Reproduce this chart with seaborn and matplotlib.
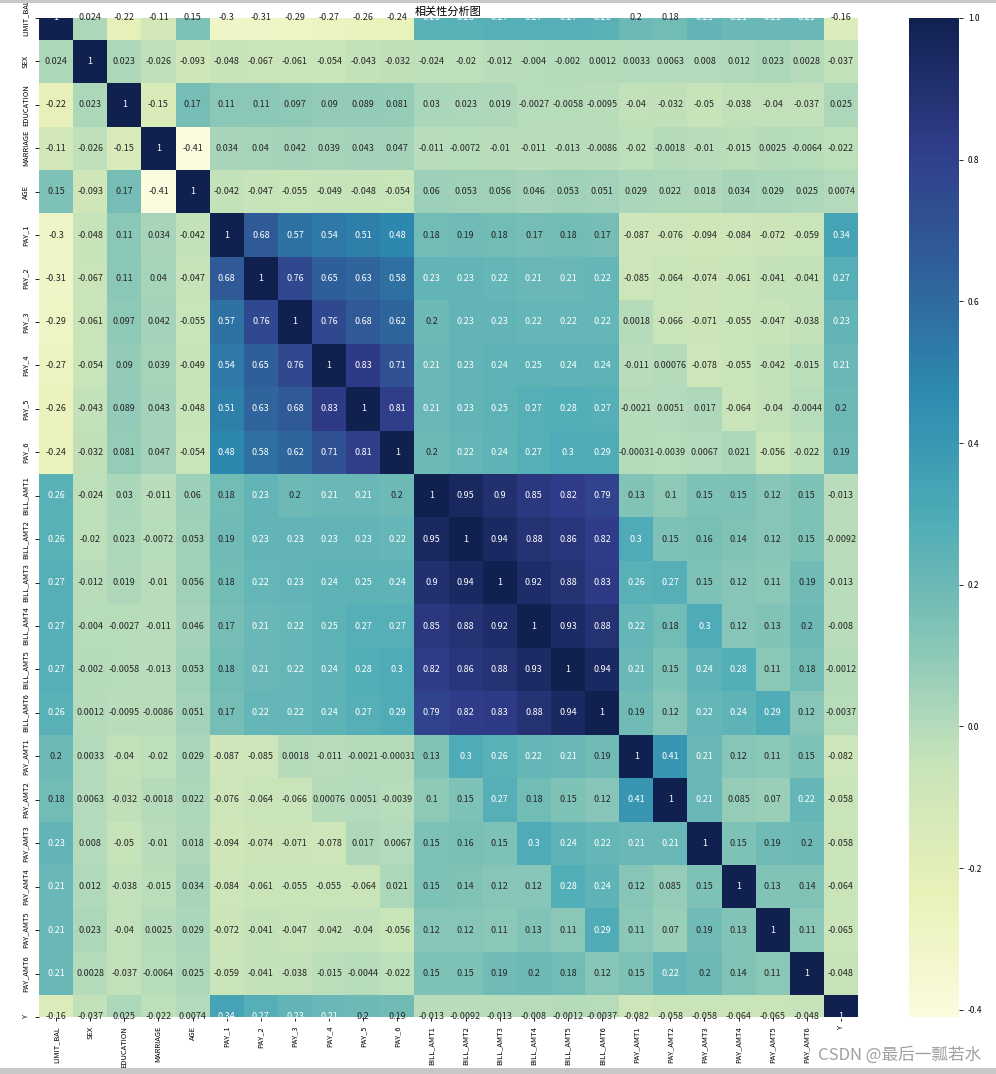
import numpy as np
import pandas as pd
import matplotlib
matplotlib.use("Agg")
import matplotlib.pyplot as plt
from matplotlib.colors import ListedColormap
from matplotlib.patches import Rectangle
import seaborn as sns

labels = ["LIMIT_BAL", "SEX", "EDUCATION", "MARRIAGE", "AGE",
          "PAY_1", "PAY_2", "PAY_3", "PAY_4", "PAY_5", "PAY_6",
          "BILL_AMT1", "BILL_AMT2", "BILL_AMT3", "BILL_AMT4", "BILL_AMT5", "BILL_AMT6",
          "PAY_AMT1", "PAY_AMT2", "PAY_AMT3", "PAY_AMT4", "PAY_AMT5", "PAY_AMT6", "Y"]

# correlation rows
r_limit_bal = [1, 0.024, -0.22, -0.11, 0.15, -0.3, -0.31, -0.29, -0.27, -0.26, -0.24, 0.26, 0.26, 0.27, 0.27, 0.27, 0.26, 0.2, 0.18, 0.23, 0.21, 0.21, 0.21, -0.16]
r_sex = [0.024, 1, 0.023, -0.026, -0.093, -0.048, -0.067, -0.061, -0.054, -0.043, -0.032, -0.024, -0.02, -0.012, -0.004, -0.002, 0.0012, 0.0033, 0.0063, 0.008, 0.012, 0.023, 0.0028, -0.037]
r_education = [-0.22, 0.023, 1, -0.15, 0.17, 0.11, 0.11, 0.097, 0.09, 0.089, 0.081, 0.03, 0.023, 0.019, -0.0027, -0.0058, -0.0095, -0.04, -0.032, -0.05, -0.038, -0.04, -0.037, 0.025]
r_marriage = [-0.11, -0.026, -0.15, 1, -0.41, 0.034, 0.04, 0.042, 0.039, 0.043, 0.047, -0.011, -0.0072, -0.01, -0.011, -0.013, -0.0086, -0.02, -0.0018, -0.01, -0.015, 0.0025, -0.0064, -0.022]
r_age = [0.15, -0.093, 0.17, -0.41, 1, -0.042, -0.047, -0.055, -0.049, -0.048, -0.054, 0.06, 0.053, 0.056, 0.046, 0.053, 0.051, 0.029, 0.022, 0.018, 0.034, 0.029, 0.025, 0.0074]
r_pay_1 = [-0.3, -0.048, 0.11, 0.034, -0.042, 1, 0.68, 0.57, 0.54, 0.51, 0.48, 0.18, 0.19, 0.18, 0.17, 0.18, 0.17, -0.087, -0.076, -0.094, -0.084, -0.072, -0.059, 0.34]
r_pay_2 = [-0.31, -0.067, 0.11, 0.04, -0.047, 0.68, 1, 0.76, 0.65, 0.63, 0.58, 0.23, 0.23, 0.22, 0.21, 0.21, 0.22, -0.085, -0.064, -0.074, -0.061, -0.041, -0.041, 0.27]
r_pay_3 = [-0.29, -0.061, 0.097, 0.042, -0.055, 0.57, 0.76, 1, 0.76, 0.68, 0.62, 0.2, 0.23, 0.23, 0.22, 0.22, 0.22, 0.0018, -0.066, -0.071, -0.055, -0.047, -0.038, 0.23]
r_pay_4 = [-0.27, -0.054, 0.09, 0.039, -0.049, 0.54, 0.65, 0.76, 1, 0.83, 0.71, 0.21, 0.23, 0.24, 0.25, 0.24, 0.24, -0.011, 0.00076, -0.078, -0.055, -0.042, -0.015, 0.21]
r_pay_5 = [-0.26, -0.043, 0.089, 0.043, -0.048, 0.51, 0.63, 0.68, 0.83, 1, 0.81, 0.21, 0.23, 0.25, 0.27, 0.28, 0.27, -0.0021, 0.0051, 0.017, -0.064, -0.04, -0.0044, 0.2]
r_pay_6 = [-0.24, -0.032, 0.081, 0.047, -0.054, 0.48, 0.58, 0.62, 0.71, 0.81, 1, 0.2, 0.22, 0.24, 0.27, 0.3, 0.29, -0.00031, -0.0039, 0.0067, 0.021, -0.056, -0.022, 0.19]
r_bill_1 = [0.26, -0.024, 0.03, -0.011, 0.06, 0.18, 0.23, 0.2, 0.21, 0.21, 0.2, 1, 0.95, 0.9, 0.85, 0.82, 0.79, 0.13, 0.1, 0.15, 0.15, 0.12, 0.15, -0.013]
r_bill_2 = [0.26, -0.02, 0.023, -0.0072, 0.053, 0.19, 0.23, 0.23, 0.23, 0.23, 0.22, 0.95, 1, 0.94, 0.88, 0.86, 0.82, 0.3, 0.15, 0.16, 0.14, 0.12, 0.15, -0.0092]
r_bill_3 = [0.27, -0.012, 0.019, -0.01, 0.056, 0.18, 0.22, 0.23, 0.24, 0.25, 0.24, 0.9, 0.94, 1, 0.92, 0.88, 0.83, 0.26, 0.27, 0.15, 0.12, 0.11, 0.19, -0.013]
r_bill_4 = [0.27, -0.004, -0.0027, -0.011, 0.046, 0.17, 0.21, 0.22, 0.25, 0.27, 0.27, 0.85, 0.88, 0.92, 1, 0.93, 0.88, 0.22, 0.18, 0.3, 0.12, 0.13, 0.2, -0.008]
r_bill_5 = [0.27, -0.002, -0.0058, -0.013, 0.053, 0.18, 0.21, 0.22, 0.24, 0.28, 0.3, 0.82, 0.86, 0.88, 0.93, 1, 0.94, 0.21, 0.15, 0.24, 0.28, 0.11, 0.18, -0.0012]
r_bill_6 = [0.26, 0.0012, -0.0095, -0.0086, 0.051, 0.17, 0.22, 0.22, 0.24, 0.27, 0.29, 0.79, 0.82, 0.83, 0.88, 0.94, 1, 0.19, 0.12, 0.22, 0.24, 0.29, 0.12, -0.0037]
r_payamt_1 = [0.2, 0.0033, -0.04, -0.02, 0.029, -0.087, -0.085, 0.0018, -0.011, -0.0021, -0.00031, 0.13, 0.3, 0.26, 0.22, 0.21, 0.19, 1, 0.41, 0.21, 0.12, 0.11, 0.15, -0.082]
r_payamt_2 = [0.18, 0.0063, -0.032, -0.0018, 0.022, -0.076, -0.064, -0.066, 0.00076, 0.0051, -0.0039, 0.1, 0.15, 0.27, 0.18, 0.15, 0.12, 0.41, 1, 0.21, 0.085, 0.07, 0.22, -0.058]
r_payamt_3 = [0.23, 0.008, -0.05, -0.01, 0.018, -0.094, -0.074, -0.071, -0.078, 0.017, 0.0067, 0.15, 0.16, 0.15, 0.3, 0.24, 0.22, 0.21, 0.21, 1, 0.15, 0.19, 0.2, -0.058]
r_payamt_4 = [0.21, 0.012, -0.038, -0.015, 0.034, -0.084, -0.061, -0.055, -0.055, -0.064, 0.021, 0.15, 0.14, 0.12, 0.12, 0.28, 0.24, 0.12, 0.085, 0.15, 1, 0.13, 0.14, -0.064]
r_payamt_5 = [0.21, 0.023, -0.04, 0.0025, 0.029, -0.072, -0.041, -0.047, -0.042, -0.04, -0.056, 0.12, 0.12, 0.11, 0.13, 0.11, 0.29, 0.11, 0.07, 0.19, 0.13, 1, 0.11, -0.065]
r_payamt_6 = [0.21, 0.0028, -0.037, -0.0064, 0.025, -0.059, -0.041, -0.038, -0.015, -0.0044, -0.022, 0.15, 0.15, 0.19, 0.2, 0.18, 0.12, 0.15, 0.22, 0.2, 0.14, 0.11, 1, -0.048]
r_y = [-0.16, -0.037, 0.025, -0.022, 0.0074, 0.34, 0.27, 0.23, 0.21, 0.2, 0.19, -0.013, -0.0092, -0.013, -0.008, -0.0012, -0.0037, -0.082, -0.058, -0.058, -0.064, -0.065, -0.048, 1]

rows = [r_limit_bal, r_sex, r_education, r_marriage, r_age,
        r_pay_1, r_pay_2, r_pay_3, r_pay_4, r_pay_5, r_pay_6,
        r_bill_1, r_bill_2, r_bill_3, r_bill_4, r_bill_5, r_bill_6,
        r_payamt_1, r_payamt_2, r_payamt_3, r_payamt_4, r_payamt_5, r_payamt_6, r_y]
corr = pd.DataFrame(np.array(rows), index=labels, columns=labels)

plt.rcParams['font.family'] = ['Noto Sans CJK SC', 'DejaVu Sans']
plt.rcParams['axes.unicode_minus'] = False

# YlGnBu, a little muted like the screenshot
cmap = ListedColormap([sns.desaturate(c, 0.8) for c in sns.color_palette('YlGnBu', 256)])

fig = plt.figure(figsize=(9.96, 10.74), dpi=100)
ax = fig.add_axes([0.0392, 0.0531, 0.8223, 0.9302])
cax = fig.add_axes([0.9127, 0.0531, 0.0502, 0.9302])

sns.heatmap(corr, annot=True, cmap=cmap, ax=ax, cbar_ax=cax,
            annot_kws={'fontsize': 6.5})

# old matplotlib cut the first and last rows in half
ax.set_ylim(len(labels) - 0.5, 0.5)

ax.set_title('相关性分析图', fontsize=8, pad=2)
ax.tick_params(axis='both', labelsize=5.4, length=3, width=0.6)
plt.setp(ax.get_xticklabels(), rotation=90)
plt.setp(ax.get_yticklabels(), rotation=90, va='center')

cax.tick_params(labelsize=6, length=3, width=0.6)

# screenshot borders and watermark
fig.add_artist(Rectangle((0, 0.9972), 1, 0.0028, transform=fig.transFigure,
                         color='#c8c8c8', lw=0))
fig.add_artist(Rectangle((0, 0), 1, 0.0056, transform=fig.transFigure,
                         color='#c8c8c8', lw=0))
fig.text(0.985, 0.0177, 'CSDN @最后一瓢若水', ha='right', va='center',
         fontsize=12, color='#a0a0a0')

plt.savefig('out.png', dpi=100)
